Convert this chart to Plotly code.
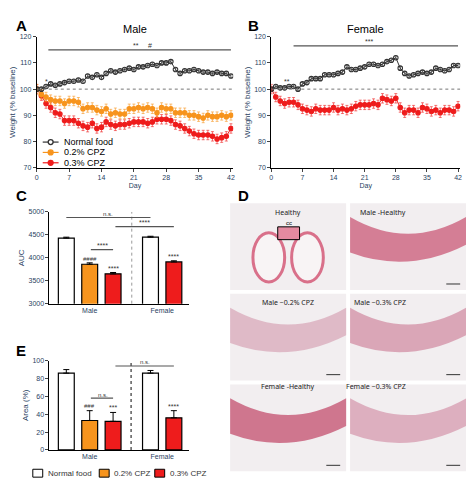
import plotly.graph_objects as go

W, H = 474, 482

days = list(range(43))

male_normal = [100, 100, 101, 102, 101.5, 102, 102.5, 103, 103, 103.5, 103, 105, 104.5, 105.5, 104.5, 106,
               107, 106.5, 107, 107.5, 108, 107.5, 108.5, 108.5, 109, 109.5, 109, 110, 110, 110.5, 107.5,
               106, 107, 107, 107.5, 107, 106.5, 106.5, 106, 106.5, 106, 106, 105]
male_02 = [100, 98, 97, 96, 95.5, 95.5, 94.5, 95.5, 95.5, 95, 92.5, 93, 93, 92, 91.5, 92.5, 90.5, 91, 90.5,
           90.5, 92.5, 92.5, 93, 92.5, 93, 92.5, 91, 93, 92.5, 92.5, 91, 91, 91, 90, 90, 89.5, 89, 90, 89.5,
           89.5, 90, 89.5, 90]
male_03 = [100, 97.5, 94.5, 93, 91, 90.5, 88, 88, 88, 87, 86, 85.5, 87, 85, 85.5, 87.5, 86.5, 86, 86.5, 86.5,
           87, 87.5, 87.5, 87.5, 87, 87.5, 88.5, 88.5, 88.5, 88, 86.5, 86, 85, 84, 83, 82.5, 82.5, 82.5, 82,
           81, 81.5, 82, 85]
female_normal = [100, 101, 100.5, 100.5, 101, 101, 100, 102, 102.5, 104, 104, 104, 105.5, 105.5, 105.5, 106,
                 106.5, 108.5, 107.5, 107.5, 108, 108.5, 109.5, 109.5, 109, 109.5, 110.5, 111, 112, 108, 106,
                 105, 105.5, 106, 106.5, 106, 106.5, 108, 107.5, 107, 107.5, 109, 109]
female_03 = [100, 97, 95.5, 94.5, 95, 95, 94, 92.5, 92, 91.5, 92.5, 92, 92, 92, 93, 92, 92.5, 92, 92.5, 93.5,
             94, 94, 94, 94.5, 94, 96.5, 96, 95.5, 96.5, 93, 91, 92, 92, 91, 93, 92.5, 91.5, 92, 91, 92, 92,
             91.5, 93.5]
err_normal = 0.6
err_cpz = 1.8

groups = ["Normal food", "0.2% CPZ", "0.3% CPZ"]
bar_x = {"Normal food": [1, 4.6], "0.2% CPZ": [2], "0.3% CPZ": [3, 5.6]}
auc = {"Normal food": [4430, 4450], "0.2% CPZ": [3860], "0.3% CPZ": [3650, 3910]}
auc_err = {"Normal food": [20, 20], "0.2% CPZ": [30], "0.3% CPZ": [30, 25]}
area = {"Normal food": [86, 86], "0.2% CPZ": [33], "0.3% CPZ": [32, 36]}
area_err = {"Normal food": [4, 3], "0.2% CPZ": [11], "0.3% CPZ": [10, 8]}
bar_fill = {"Normal food": "white", "0.2% CPZ": "#f7941d", "0.3% CPZ": "#ee1c1c"}

ORANGE, RED, DARK = "#f7941d", "#ee1c1c", "#333333"
F = "Arial, Liberation Sans, sans-serif"


def px(x):
    return x / W


def py(y):
    return 1 - y / H


fig = go.Figure()


def line_trace(y, color, name, xa, ya, err, open_marker=False):
    fig.add_trace(go.Scatter(
        x=days, y=y, mode="lines+markers", name=name, xaxis=xa, yaxis=ya, showlegend=False,
        line=dict(color=color, width=1),
        marker=dict(size=4.5, symbol="circle-open" if open_marker else "circle", color=color,
                    line=dict(width=1.1, color=color)),
        error_y=dict(type="constant", value=err, color=color, thickness=0.6, width=1.5),
    ))


line_trace(male_03, RED, "0.3% CPZ", "x", "y", err_cpz)
line_trace(male_02, ORANGE, "0.2% CPZ", "x", "y", err_cpz)
line_trace(male_normal, DARK, "Normal food", "x", "y", err_normal, True)
line_trace(female_03, RED, "0.3% CPZ", "x2", "y2", err_cpz)
line_trace(female_normal, DARK, "Normal food", "x2", "y2", err_normal, True)

for xa, ya, vals, errs in [("x3", "y3", auc, auc_err), ("x4", "y4", area, area_err)]:
    for g in groups:
        fig.add_trace(go.Bar(
            x=bar_x[g], y=vals[g], name=g, xaxis=xa, yaxis=ya, width=0.68, showlegend=False,
            marker=dict(color=bar_fill[g], line=dict(color="black", width=1.2)),
            error_y=dict(type="data", array=errs[g], symmetric=False, arrayminus=[0] * len(errs[g]),
                         color="black", thickness=1, width=3),
        ))

ax_line = dict(showline=True, linecolor="black", linewidth=1, ticks="outside", ticklen=3,
               tickfont=dict(size=7, family=F), showgrid=False, zeroline=False, mirror=False,
               ticklabeloverflow="allow")
tick_days = [0, 7, 14, 21, 28, 35, 42]
layout_axes = {}
for i, (xd, yd) in enumerate([((0.057, 0.475), (0.672, 0.948)), ((0.556, 0.958), (0.672, 0.948))]):
    s = "" if i == 0 else "2"
    layout_axes["xaxis" + s] = dict(ax_line, domain=xd, range=[0, 42.5], tickvals=tick_days,
                                    anchor="y" + s, title=dict(text="Day", font=dict(size=7, family=F), standoff=2))
    layout_axes["yaxis" + s] = dict(ax_line, domain=yd, range=[70, 120], tickvals=[70, 80, 90, 100, 110, 120],
                                    anchor="x" + s, title=dict(text="Weight (% baseline)", font=dict(size=8, family=F), standoff=2))
for s, yd, yr, yt, yl in [("3", (0.386, 0.579), [3000, 5000], [3000, 3500, 4000, 4500, 5000], "AUC"),
                          ("4", (0.078, 0.266), [0, 100], [0, 20, 40, 60, 80, 100], "Area (%)")]:
    layout_axes["xaxis" + s] = dict(ax_line, domain=(0.084, 0.380), range=[0.28, 6.23],
                                    tickvals=[2, 5.1], ticktext=["Male", "Female"], ticks="", anchor="y" + s)
    layout_axes["yaxis" + s] = dict(ax_line, domain=yd, range=yr, tickvals=yt, anchor="x" + s,
                                    title=dict(text=yl, font=dict(size=8, family=F), standoff=2))

shapes, annots = [], []


def hline(xa, ya, x0, x1, y, color="#555555", dash=None, w=1.2):
    shapes.append(dict(type="line", xref=xa, yref=ya, x0=x0, x1=x1, y0=y, y1=y,
                       line=dict(color=color, width=w, dash=dash)))


def txt(xa, ya, x, y, t, size=7, **kw):
    annots.append(dict(xref=xa, yref=ya, x=x, y=y, text=t, showarrow=False,
                       font=dict(size=size, family=F, color=kw.pop("color", DARK)), **kw))


# A / B
hline("x", "y", 0, 42.5, 100, "#777777", "dot", 1)
hline("x2", "y2", 0, 42.5, 100, "#777777", "dot", 1)
hline("x", "y", 2.5, 42, 115)
hline("x2", "y2", 5, 42, 116.5)
txt("x", "y", 21.5, 116.6, "**", 7)
txt("x", "y", 24.5, 116.6, "#", 7)
txt("x", "y", 2, 103, "*", 7)
txt("x2", "y2", 22, 118.2, "***", 7)
txt("x2", "y2", 3.5, 103, "**", 7)
txt("x domain", "y domain", 0.5, 1.12, "Male", 11, color="black")
txt("x2 domain", "y2 domain", 0.5, 1.12, "Female", 11, color="black")

# manual legend in A
for k, (nm, col, op) in enumerate([("Normal food", DARK, True), ("0.2% CPZ", ORANGE, False),
                                   ("0.3% CPZ", RED, False)]):
    yy = 132 + k * 10.5
    shapes.append(dict(type="line", xref="paper", yref="paper", x0=px(33), x1=px(49), y0=py(yy), y1=py(yy),
                       line=dict(color=col, width=1.2)))
    shapes.append(dict(type="circle", xref="paper", yref="paper", x0=px(38.5), x1=px(43.5),
                       y0=py(yy + 2.5), y1=py(yy - 2.5), fillcolor="white" if op else col,
                       line=dict(color=col, width=1.3)))
    annots.append(dict(xref="paper", yref="paper", x=px(52), y=py(yy), text=nm, showarrow=False,
                       xanchor="left", yanchor="middle", font=dict(size=9, family=F, color="black")))

# manual legend under E
for lx, g in zip([23, 90, 146], groups):
    shapes.append(dict(type="rect", xref="paper", yref="paper", x0=px(lx), x1=px(lx + 10),
                       y0=py(472), y1=py(464), fillcolor=bar_fill[g], line=dict(color="black", width=1)))
    annots.append(dict(xref="paper", yref="paper", x=px(lx + 13), y=py(468), text=g, showarrow=False,
                       xanchor="left", yanchor="middle", font=dict(size=8, family=F, color=DARK)))

# C
shapes.append(dict(type="line", xref="x3", yref="y3 domain", x0=3.8, x1=3.8, y0=0, y1=1,
                   line=dict(color="#999999", width=1, dash="dot")))
hline("x3", "y3", 1, 4.6, 4880)
txt("x3", "y3", 2.8, 4950, "n.s.", 6)
hline("x3", "y3", 3.1, 5.6, 4680)
txt("x3", "y3", 4.35, 4760, "****", 7)
hline("x3", "y3", 2.05, 3.0, 4180)
txt("x3", "y3", 2.55, 4260, "****", 7)
txt("x3", "y3", 2, 3980, "####", 6)
txt("x3", "y3", 3, 3760, "****", 7)
txt("x3", "y3", 5.6, 4020, "****", 7)

# E
shapes.append(dict(type="line", xref="x4", yref="y4 domain", x0=3.77, x1=3.77, y0=0, y1=1,
                   line=dict(color=DARK, width=1.2, dash="dot")))
hline("x4", "y4", 1, 4.6, 107)
txt("x4", "y4", 2.8, 111, "n.s.", 6)
hline("x4", "y4", 3.1, 5.6, 94)
txt("x4", "y4", 4.35, 98, "n.s.", 6)
hline("x4", "y4", 2.05, 3.0, 58)
txt("x4", "y4", 2.55, 62, "n.s.", 6)
txt("x4", "y4", 2, 49, "###", 6)
txt("x4", "y4", 3, 47, "***", 7)
txt("x4", "y4", 5.6, 49, "****", 7)

# panel letters
for lx, ly, L in [(4, 14, "A"), (238, 14, "B"), (4, 186, "C"), (228, 186, "D"), (4, 343, "E")]:
    annots.append(dict(xref="paper", yref="paper", x=px(lx), y=py(ly), text="<b>%s</b>" % L, showarrow=False,
                       xanchor="left", yanchor="middle", font=dict(size=15, family=F, color="black")))

# D: histology panels (illustrative)
cw, ch = 117, 88
cells = [(222, 194, "Healthy", None), (343, 194, "Male -Healthy", "#cf6a85"),
         (222, 286, "Male \u22120.2% CPZ", "#dcb0c0"), (343, 286, "Male \u22120.3% CPZ", "#d699ad"),
         (222, 378, "Female -Healthy", "#c9607c"), (343, 378, "Female \u22120.3% CPZ", "#d9a3b6")]
for x0, y0, lab, band in cells:
    shapes.append(dict(type="rect", xref="paper", yref="paper", x0=px(x0), x1=px(x0 + cw),
                       y0=py(y0 + ch), y1=py(y0), fillcolor="#f2eef0", line=dict(width=0), layer="below"))
    if band:
        top = [(x0, y0 + 14), (x0 + cw / 2, y0 + 48), (x0 + cw, y0 + 14)]
        bot = [(x0 + cw, y0 + 42), (x0 + cw / 2, y0 + 72), (x0, y0 + 50)]
        path = "M %.4f %.4f Q %.4f %.4f %.4f %.4f L %.4f %.4f Q %.4f %.4f %.4f %.4f Z" % (
            px(top[0][0]), py(top[0][1]), px(top[1][0]), py(top[1][1]), px(top[2][0]), py(top[2][1]),
            px(bot[0][0]), py(bot[0][1]), px(bot[1][0]), py(bot[1][1]), px(bot[2][0]), py(bot[2][1]))
        shapes.append(dict(type="path", xref="paper", yref="paper", path=path, fillcolor=band,
                           line=dict(width=0), opacity=0.85, layer="below"))
        shapes.append(dict(type="line", xref="paper", yref="paper", x0=px(x0 + cw - 20), x1=px(x0 + cw - 6),
                           y0=py(y0 + ch - 6), y1=py(y0 + ch - 6), line=dict(color=DARK, width=1)))
    else:
        for cx in (x0 + 39, x0 + 78):
            shapes.append(dict(type="circle", xref="paper", yref="paper", x0=px(cx - 16), x1=px(cx + 16),
                               y0=py(y0 + 80), y1=py(y0 + 30), fillcolor="#f8f4f5",
                               line=dict(color="#d9708a", width=3), layer="below"))
        shapes.append(dict(type="rect", xref="paper", yref="paper", x0=px(x0 + 48), x1=px(x0 + 70),
                           y0=py(y0 + 37), y1=py(y0 + 24), fillcolor="#e58aa0",
                           line=dict(color="black", width=1)))
        annots.append(dict(xref="paper", yref="paper", x=px(x0 + 59), y=py(y0 + 20), text="cc", showarrow=False,
                           font=dict(size=6, family=F, color="black")))
    annots.append(dict(xref="paper", yref="paper", x=px(x0 + cw / 2), y=py(y0 + 9), text=lab, showarrow=False,
                       font=dict(size=7, family="Noto Sans, sans-serif", color="#222222")))

fig.update_layout(
    width=W, height=H, margin=dict(l=0, r=0, t=0, b=0), paper_bgcolor="white", plot_bgcolor="white",
    barmode="overlay", shapes=shapes, annotations=annots, showlegend=False,
    **layout_axes,
)

fig.write_html("out.html")
